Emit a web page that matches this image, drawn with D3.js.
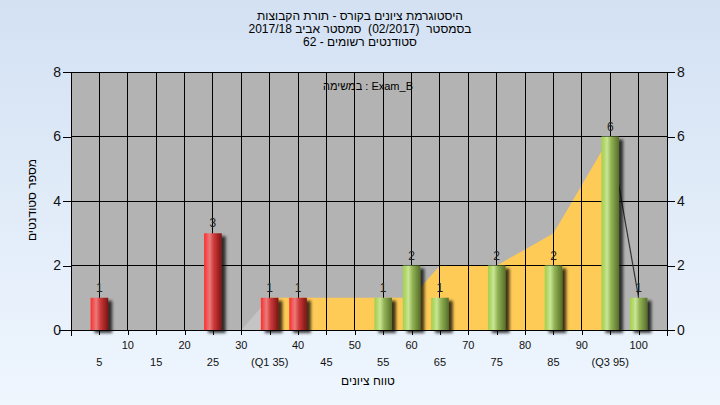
<!DOCTYPE html>
<html><head><meta charset="utf-8">
<script src="https://cdn.jsdelivr.net/npm/d3@7"></script>
<style>body{margin:0;background:#e6effa;} svg{display:block;font-family:"Liberation Sans","DejaVu Sans",Arial,sans-serif;} text{white-space:pre;}</style>
</head><body><svg id="c" width="720" height="405"></svg>
<script>
// ---- data ----
const titleLines = [
  "היסטוגרמת ציונים בקורס - תורת הקבוצות",
  "בסמסטר  (02/2017)  סמסטר אביב 2017/18",
  "סטודנטים רשומים - 62"
];
const taskLabel = "במשימה : Exam_B";
const binCenters = [5, 25, 35, 40, 55, 60, 65, 75, 85, 95, 100];
const binCounts  = [1, 3, 1, 1, 1, 2, 1, 2, 2, 6, 1];
const passMark = 55;
const trendX = [30, 35, 40, 45, 50, 55, 60, 65, 70, 75, 80, 85, 90, 95, 100];
const trendY = [0, 1, 1, 1, 1, 1, 1, 2, 2, 2, 2.5, 3, 4.5, 6, 1];
const xTickValues = [5,10,15,20,25,30,35,40,45,50,55,60,65,70,75,80,85,90,95,100];
const xTickLabels = ["5","10","15","20","25","30","(Q1 35)","40","45","50","55","60","65","70","75","80","85","90","(Q3 95)","100"];
const yTicks = [0, 2, 4, 6, 8];
const xTitle = "טווח ציונים";
const yTitle = "מספר סטודנטים";

// ---- layout ----
const W = 720, H = 405;
const L = 71, R = 667, T = 72, B = 330;
const svg = d3.select("#c");
const x = d3.scaleLinear().domain([0, 105]).range([L, R]);
const y = d3.scaleLinear().domain([0, 8]).range([B, T]);

const defs = svg.append("defs");
const bg = defs.append("linearGradient").attr("id","bg").attr("x1",0).attr("y1",0).attr("x2",0).attr("y2",1);
bg.append("stop").attr("offset",0).attr("stop-color","#d3e1f3");
bg.append("stop").attr("offset",1).attr("stop-color","#eff6fe");
const gR = defs.append("linearGradient").attr("id","gR");
[[0,"#ff2b2b"],[0.18,"#f25a5a"],[0.32,"#e97a7a"],[0.55,"#cf3a3a"],[1,"#7c1414"]].forEach(s=>gR.append("stop").attr("offset",s[0]).attr("stop-color",s[1]));
const gG = defs.append("linearGradient").attr("id","gG");
[[0,"#a3cf4e"],[0.18,"#b5da6c"],[0.32,"#c9e597"],[0.55,"#93b454"],[1,"#566f2a"]].forEach(s=>gG.append("stop").attr("offset",s[0]).attr("stop-color",s[1]));
const f = defs.append("filter").attr("id","sh").attr("x","-30%").attr("y","-30%").attr("width","200%").attr("height","160%");
f.append("feGaussianBlur").attr("in","SourceAlpha").attr("stdDeviation",1.8).attr("result","b");
f.append("feOffset").attr("in","b").attr("dx",4).attr("dy",3).attr("result","o");
f.append("feComponentTransfer").attr("in","o").attr("result","o2").append("feFuncA").attr("type","linear").attr("slope",0.75);
const fm = f.append("feMerge"); fm.append("feMergeNode").attr("in","o2"); fm.append("feMergeNode").attr("in","SourceGraphic");

svg.append("rect").attr("width",W).attr("height",H).attr("fill","url(#bg)");

// plot background
svg.append("rect").attr("x",L).attr("y",T).attr("width",R-L).attr("height",B-T).attr("fill","#b3b3b3");

// trend area: light start segment, yellow body, dark tail line
const pts = trendX.map((v,i)=>[v,trendY[i]]);
const areaGen = d3.area().x(d=>x(d[0])).y0(y(0)).y1(d=>y(d[1]));
svg.append("path").datum(pts.filter(d=>d[0]<=35)).attr("d",areaGen).attr("fill","#c4c4c4");
svg.append("path").datum(pts.filter(d=>d[0]>=35 && d[0]<=95)).attr("d",areaGen).attr("fill","#ffcb57");

// grid
const grid = svg.append("g").attr("stroke","#000").attr("stroke-width",1).attr("shape-rendering","crispEdges");
d3.range(5,105,5).forEach(v=>grid.append("line").attr("x1",x(v)).attr("x2",x(v)).attr("y1",T).attr("y2",B));
yTicks.filter(v=>v>0).forEach(v=>grid.append("line").attr("x1",L).attr("x2",R).attr("y1",y(v)).attr("y2",y(v)));

svg.append("path").datum(pts.filter(d=>d[0]>=95)).attr("d",d3.line().x(d=>x(d[0])).y(d=>y(d[1])))
  .attr("fill","none").attr("stroke","#333").attr("stroke-width",1.2);

// bars
const bw = x(3.1) - x(0);
svg.append("g").selectAll("rect").data(binCenters).join("rect")
  .attr("x",(d)=>x(d)-bw/2).attr("width",bw)
  .attr("y",(d,i)=>y(binCounts[i])).attr("height",(d,i)=>y(0)-y(binCounts[i]))
  .attr("fill",d=>d>=passMark?"url(#gG)":"url(#gR)")
  .attr("filter","url(#sh)");

// value labels
svg.append("g").selectAll("text").data(binCenters).join("text")
  .attr("x",d=>x(d)).attr("y",(d,i)=>y(binCounts[i])-6)
  .attr("text-anchor","middle").attr("font-size",12).attr("fill","#222")
  .text((d,i)=>binCounts[i]);

// axes
const yl = svg.append("g").attr("transform",`translate(${L},0)`).call(d3.axisLeft(y).tickValues(yTicks).tickSize(8).tickPadding(2));
const yr = svg.append("g").attr("transform",`translate(${R},0)`).call(d3.axisRight(y).tickValues(yTicks).tickSize(8).tickPadding(2));
[yl,yr].forEach(g=>{g.selectAll("text").attr("font-size",14).attr("fill","#111").attr("font-family","Liberation Sans, Arial, sans-serif");
  g.selectAll("line,path").attr("stroke","#000").attr("shape-rendering","crispEdges");});
yl.select(".domain").attr("d",`M0,${B+6}V${T}`);
yr.select(".domain").attr("d",`M0,${B+6}V${T}`);

const xa = svg.append("g").attr("transform",`translate(0,${B})`)
  .call(d3.axisBottom(x).tickValues(d3.range(0,110,5)).tickSize(5).tickFormat(""));
xa.selectAll("line,path").attr("stroke","#000").attr("shape-rendering","crispEdges");
xa.select(".domain").attr("d",`M${L-12},0H${R}`);
svg.append("g").selectAll("text").data(xTickValues).join("text")
  .attr("x",d=>x(d)).attr("y",d=>d%10===0?349:366)
  .attr("text-anchor","middle").attr("font-size",11).attr("fill","#111")
  .text((d,i)=>xTickLabels[i]);

// titles
svg.append("g").selectAll("text").data(titleLines).join("text")
  .attr("x",360).attr("y",(d,i)=>20+i*13).attr("text-anchor","middle")
  .attr("direction","rtl").attr("font-size",12).attr("fill","#000").text(d=>d);
svg.append("text").attr("x",368).attr("y",90).attr("text-anchor","middle").attr("direction","ltr")
  .attr("font-size",11).attr("fill","#000").text(taskLabel);
svg.append("text").attr("x",368).attr("y",385).attr("text-anchor","middle").attr("direction","rtl")
  .attr("font-size",12).attr("fill","#000").text(xTitle);
svg.append("text").attr("transform","translate(36,200) rotate(-90)").attr("text-anchor","middle").attr("direction","rtl")
  .attr("font-size",12).attr("fill","#000").text(yTitle);
</script></body></html>
